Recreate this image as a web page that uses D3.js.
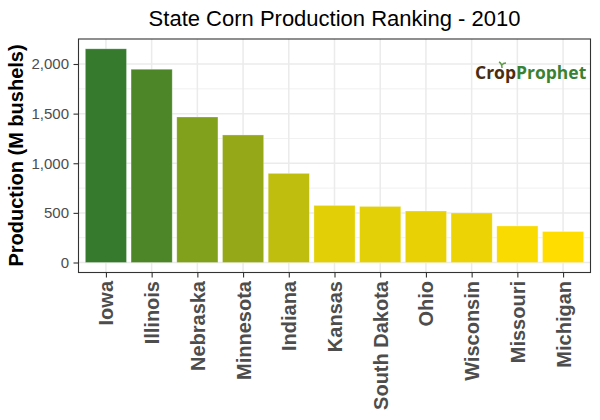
<!DOCTYPE html>
<html lang="en">
<head>
  <meta charset="UTF-8">
  <title>State Corn Production Ranking - 2010</title>
  <script src="https://d3js.org/d3.v7.min.js"></script>
  <style>
    html, body { margin: 0; padding: 0; background: #fff; }
    svg { display: block; font-family: "Liberation Sans", Arial, sans-serif; }
  </style>
</head>
<body>

<script>
  // Values
  const states = ["Iowa", "Illinois", "Nebraska", "Minnesota", "Indiana", "Kansas",
    "South Dakota", "Ohio", "Wisconsin", "Missouri", "Michigan"];
  const production = [2153, 1947, 1466, 1285, 898, 575, 565, 519, 499, 368, 312];
  const majorTicks = [0, 500, 1000, 1500, 2000];
  const minorTicks = [250, 750, 1250, 1750];

  const width = 600;
  const height = 420;
  const panel = { left: 78.5, right: 590.5, top: 39, bottom: 272.5 };

  const svg = d3.select("body")
    .append("svg")
    .attr("width", width)
    .attr("height", height);

  // ggplot-style discrete axis: 0.6 step of room at both ends
  const step = (panel.right - panel.left) / (states.length - 1 + 1.2);
  const xScale = d3.scalePoint()
    .domain(states)
    .range([panel.left + 0.6 * step, panel.right - 0.6 * step]);
  const barWidth = step * 0.9;

  const yScale = d3.scaleLinear()
    .domain([0, 2000])
    .range([262.5, 64]);

  const colorScale = d3.scaleLinear()
    .domain(d3.extent(production))
    .range(["#ffdd00", "#367b2d"]);

  // Grid
  const grid = svg.append("g").attr("fill", "none");
  grid.selectAll(".minor")
    .data(minorTicks)
    .enter().append("line")
    .attr("class", "minor")
    .attr("x1", panel.left).attr("x2", panel.right)
    .attr("y1", d => yScale(d)).attr("y2", d => yScale(d))
    .attr("stroke", "#ebebeb")
    .attr("stroke-width", 0.75);
  grid.selectAll(".major-y")
    .data(majorTicks)
    .enter().append("line")
    .attr("class", "major-y")
    .attr("x1", panel.left).attr("x2", panel.right)
    .attr("y1", d => yScale(d)).attr("y2", d => yScale(d))
    .attr("stroke", "#ebebeb")
    .attr("stroke-width", 1.5);
  grid.selectAll(".major-x")
    .data(states)
    .enter().append("line")
    .attr("class", "major-x")
    .attr("x1", d => xScale(d)).attr("x2", d => xScale(d))
    .attr("y1", panel.top).attr("y2", panel.bottom)
    .attr("stroke", "#ebebeb")
    .attr("stroke-width", 1.5);

  // Bars, with the faint light edge the original has
  svg.selectAll(".bar")
    .data(states)
    .enter().append("rect")
    .attr("class", "bar")
    .attr("x", d => xScale(d) - barWidth / 2)
    .attr("width", barWidth)
    .attr("y", (d, i) => yScale(production[i]))
    .attr("height", (d, i) => yScale(0) - yScale(production[i]))
    .attr("fill", (d, i) => colorScale(production[i]))
    .attr("stroke", "#ffffff")
    .attr("stroke-opacity", 0.35)
    .attr("stroke-width", 0.8);

  // Panel border
  svg.append("rect")
    .attr("x", panel.left)
    .attr("y", panel.top)
    .attr("width", panel.right - panel.left)
    .attr("height", panel.bottom - panel.top)
    .attr("fill", "none")
    .attr("stroke", "#333333")
    .attr("stroke-width", 1.1);

  // y axis
  const yAxis = svg.append("g")
    .attr("transform", "translate(" + panel.left + ",0)")
    .call(d3.axisLeft(yScale).tickValues(majorTicks).tickFormat(d3.format(",")).tickSize(5).tickPadding(4.5));
  yAxis.select(".domain").remove();
  yAxis.selectAll("line").attr("stroke", "#333333").attr("stroke-width", 1.1);
  yAxis.selectAll("text")
    .attr("fill", "#4d4d4d")
    .style("font-size", "15px");

  // x axis
  const xAxis = svg.append("g")
    .attr("transform", "translate(0," + panel.bottom + ")")
    .call(d3.axisBottom(xScale).tickSize(5));
  xAxis.select(".domain").remove();
  xAxis.selectAll("line").attr("stroke", "#333333").attr("stroke-width", 1.1);
  xAxis.selectAll("text")
    .attr("fill", "#4d4d4d")
    .attr("transform", "rotate(-90)")
    .attr("x", -8.5)
    .attr("y", 0)
    .attr("dy", ".35em")
    .style("text-anchor", "end")
    .style("font-size", "20px")
    .style("font-weight", "bold");

  // Titles
  svg.append("text")
    .attr("x", 334.5)
    .attr("y", 26)
    .style("text-anchor", "middle")
    .style("font-size", "22px")
    .attr("fill", "#000")
    .text("State Corn Production Ranking - 2010");

  svg.append("text")
    .attr("transform", "rotate(-90)")
    .attr("x", -155.5)
    .attr("y", 23)
    .style("text-anchor", "middle")
    .style("font-size", "20px")
    .style("font-weight", "bold")
    .attr("fill", "#000")
    .text("Production (M bushels)");

  // Logo
  const logo = svg.append("text")
    .attr("x", 475)
    .attr("y", 79)
    .style("font-family", "'Open Sans', sans-serif")
    .style("font-size", "17.5px")
    .style("font-weight", "700");
  logo.append("tspan").attr("fill", "#4a2c0f").text("Crop");
  logo.append("tspan").attr("fill", "#3a8232").text("Prophet");

  // Sprout above the "o" of the logo
  svg.append("path")
    .attr("d", "M502 68 C502 65 501 63 499 62 M502 65 C503 63 505 63 506 63")
    .attr("fill", "none")
    .attr("stroke", "#5f9a4a")
    .attr("stroke-width", 1.5);
</script>

</body>
</html>
